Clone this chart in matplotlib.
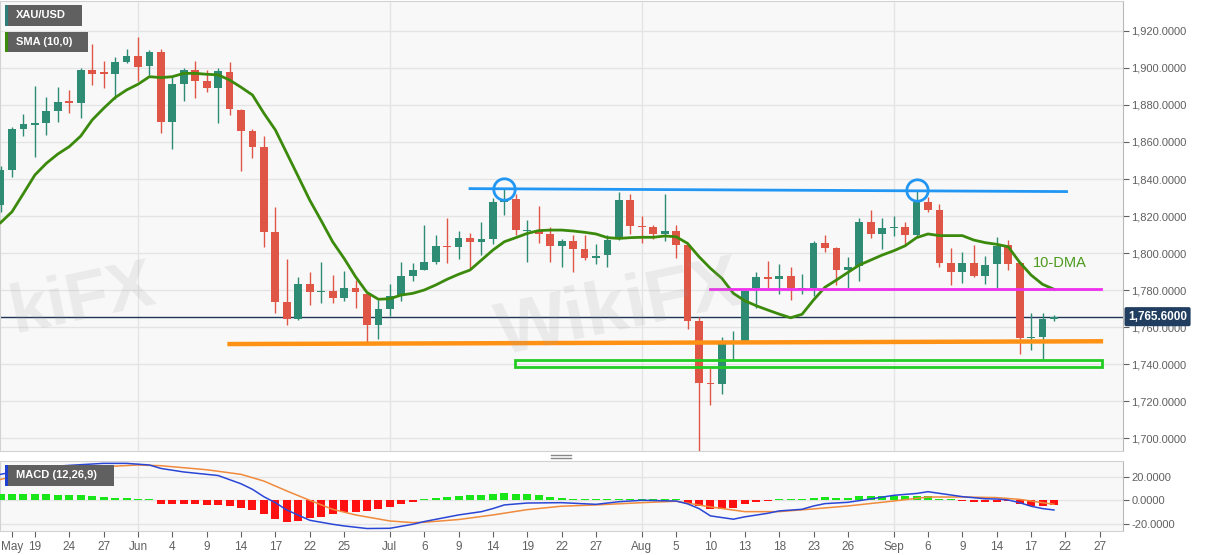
import matplotlib
matplotlib.use('Agg')
import matplotlib.pyplot as plt
import numpy as np
import pandas as pd
from matplotlib.lines import Line2D
from matplotlib.patches import Rectangle
from matplotlib.ticker import FuncFormatter
from matplotlib.transforms import blended_transform_factory

plt.rcParams['font.family'] = ['Liberation Sans', 'DejaVu Sans']

W, H = 1207, 555

# trading days on the chart (first candle May 14 2021, last Sep 21 2021)
days = pd.bdate_range('2021-05-14', '2021-09-30')

opens = [1826, 1845, 1867, 1869, 1870, 1877, 1882, 1881, 1899, 1897.5,
         1897, 1903.5, 1906.5, 1901, 1908.5, 1871, 1891.5, 1899, 1893, 1889,
         1898, 1877.5, 1866, 1857.5, 1811.5, 1773.5, 1764.5, 1783, 1779, 1779.5,
         1775.5, 1781, 1778, 1761, 1770, 1776.5, 1787.5, 1791, 1795, 1804,
         1803, 1808, 1806, 1807.5, 1827.5, 1829, 1812, 1812.5, 1810.5, 1804,
         1806.5, 1802, 1797.5, 1799, 1807.5, 1828.5, 1814.5, 1814, 1810.5, 1812,
         1804.5, 1763, 1730, 1729, 1751.5, 1752, 1781, 1787, 1786, 1787.5,
         1780.5, 1781, 1805.5, 1802.5, 1791, 1793, 1817, 1810.5, 1813.5, 1814,
         1809.5, 1827.5, 1823.5, 1794.5, 1789.5, 1794.5, 1787.5, 1794, 1804.5, 1794.5,
         1754, 1754.5, 1764.5]
highs = [1847, 1868, 1875, 1890, 1884.5, 1889.5, 1888, 1900, 1913, 1904,
         1906, 1910.5, 1916.5, 1909.5, 1910, 1895, 1900, 1904, 1899, 1900,
         1903, 1878, 1867, 1863, 1825, 1797, 1787, 1790, 1795, 1788,
         1790.5, 1785.5, 1779, 1774.5, 1783, 1795, 1794.5, 1815, 1810, 1819,
         1812, 1811, 1817, 1829.5, 1834.5, 1832, 1818, 1825.5, 1814, 1807.5,
         1810, 1810, 1805, 1810, 1833, 1832, 1820, 1815, 1832, 1815,
         1805, 1765.5, 1738, 1754.5, 1758, 1780, 1789.5, 1795.5, 1794, 1792.5,
         1788.5, 1806.5, 1809.5, 1803, 1798, 1819, 1823.5, 1819, 1820, 1817,
         1833.5, 1830.5, 1826.5, 1802.5, 1800.5, 1804.5, 1798.5, 1808.5, 1807, 1795,
         1767.5, 1767.5, 1766.5]
lows = [1822, 1841, 1863.5, 1852, 1864, 1871, 1875.5, 1873, 1891, 1889,
        1883, 1902.5, 1893, 1896, 1865, 1856, 1882, 1884, 1887, 1870,
        1874.5, 1844.5, 1851.5, 1803.5, 1767.5, 1761, 1764, 1772, 1773, 1773,
        1774, 1770.5, 1751.5, 1753.5, 1766, 1774, 1785, 1791, 1794, 1794.5,
        1796.5, 1791.5, 1799, 1805, 1820.5, 1809.5, 1795, 1805.5, 1795, 1792.5,
        1790, 1796, 1794, 1792.5, 1807, 1810.5, 1805.5, 1807.5, 1806.5, 1797.5,
        1759, 1692, 1718, 1724, 1742, 1751.5, 1770.5, 1781, 1778, 1774.5,
        1778, 1777, 1800.5, 1782.5, 1781, 1785, 1808, 1802, 1809, 1805,
        1809, 1822, 1792.5, 1782.5, 1784, 1787, 1783.5, 1781, 1791, 1745.5,
        1747.5, 1742.5, 1763]
closes = [1845, 1867, 1869.5, 1870, 1877, 1881.5, 1881, 1899, 1897, 1897,
          1903.5, 1906.5, 1900.5, 1908.5, 1871, 1891.5, 1899, 1893, 1889, 1898.5,
          1878, 1866, 1857.5, 1811.5, 1773.5, 1764.5, 1783, 1779, 1779.5, 1775.5,
          1781, 1779, 1761, 1770, 1776.5, 1787.5, 1791, 1795, 1804, 1803,
          1808, 1806, 1807.5, 1827.5, 1829, 1812.5, 1812.5, 1810.5, 1804, 1806.5,
          1802, 1797.5, 1798.5, 1807, 1828.5, 1814.5, 1814, 1810.5, 1812, 1804.5,
          1763, 1730, 1729, 1751, 1752.5, 1779.5, 1787, 1786, 1787.5, 1781,
          1781, 1805.5, 1802.5, 1791, 1792.5, 1817, 1810.5, 1813.5, 1814, 1809.5,
          1827.5, 1823.5, 1794.5, 1789.5, 1794.5, 1787.5, 1793.5, 1804, 1794, 1754,
          1754.5, 1764.5, 1765.6]

# SMA(10) as drawn on the chart
sma10 = [1816.4, 1822.3, 1832.2, 1842.2, 1848.5, 1853.5, 1857.5, 1863.2, 1871.9, 1878.2,
         1884, 1888.1, 1891.2, 1895.3, 1894.8, 1895.3, 1897.1, 1897.1, 1896.6, 1896.3,
         1893.5, 1889.6, 1885.4, 1875.5, 1866.5, 1853.9, 1841.3, 1828.6, 1817.5, 1806.1,
         1797.1, 1787.2, 1778.7, 1775, 1775.3, 1777.3, 1778.2, 1780, 1782.7, 1785.8,
         1788.5, 1790.8, 1796.2, 1801.6, 1806.1, 1808.3, 1810.6, 1812.1, 1812.4, 1812.4,
         1811.9, 1811.2, 1810.3, 1808.3, 1807.9, 1808.3, 1808.5, 1808.5, 1809.2, 1808.8,
         1805.2, 1798, 1791.7, 1786.3, 1778.2, 1774.2, 1771.5, 1769.2, 1767, 1765,
         1766.9, 1774.6, 1781.5, 1785.4, 1789.5, 1793.5, 1796.2, 1798.9, 1801.2, 1803.9,
         1808.3, 1810.3, 1809.4, 1809.4, 1809.4, 1807, 1805.6, 1804.7, 1803.4, 1795,
         1788.1, 1783.1, 1780.4]

# MACD (12,26,9) panel
macd_hist = [5.1, 5.6, 5.6, 5.6, 5.1, 4.5, 4.5, 4.2, 3.7, 3.1,
             2.3, 1.7, 0.8, 0.3, -2.8, -2.8, -3.4, -3.4, -3.9, -4.2,
             -5.1, -6.8, -8.2, -11.3, -15.5, -18, -17.5, -15.2, -14.1, -11.3,
             -9.6, -9.6, -9, -7, -5.4, -3.4, -1.1, 0.3, 1.7, 2.8,
             3.7, 4.2, 4.2, 5.6, 6.5, 5.6, 5.1, 4.2, 3.1, 2.3,
             1.4, 0.8, 0.6, 0.6, 1.4, 1.4, 1.4, 0.8, 0.8, 0.1,
             -2, -4.8, -7.6, -7, -6.8, -3.4, -1.4, -0.1, 0.3, 0.3,
             0.5, 2.3, 2.8, 2.3, 2.3, 3.7, 3.7, 3.7, 3.4, 3.4,
             3.4, 3.4, 1.1, 0.2, -0.5, -1.1, -1.1, -1.1, -0.8, -3.4,
             -4.8, -4.8, -4.2]
macd_days = [0, 3, 6, 9, 11, 13, 14, 16, 18, 19, 21, 22, 23, 24, 25, 27, 29, 30, 32, 34,
             36, 37, 40, 42, 43, 44, 46, 49, 52, 54, 56, 59, 60, 61, 62, 64, 65, 67, 68, 70,
             71, 72, 74, 76, 78, 80, 81, 83, 84, 86, 87, 88, 89, 90, 91, 92]
macd_line = [22, 27.6, 29.6, 31.3, 31.3, 29.9, 27, 24, 22, 21, 14, 9.3, 3, -2, -8.2, -16.9, -20.3, -21.7, -23.9, -23.7,
             -20.3, -18, -12.4, -9.6, -7, -3.9, -2.3, -2, -3.4, -1.2, 0, -0.6, -3, -7, -13.2, -16, -14, -11, -9, -7.6,
             -4.8, -2.8, -1.7, 1.2, 4.2, 5.8, 7.3, 4.5, 3.1, 1.3, 1.1, 0.3, -2, -5, -7, -8.2]
signal_days = [0, 3, 6, 9, 12, 14, 16, 18, 21, 23, 25, 27, 29, 31, 34, 36, 37, 40, 43, 46,
               49, 52, 56, 59, 62, 65, 68, 71, 74, 78, 81, 84, 87, 89, 92]
signal_line = [17.7, 24.8, 27, 28.5, 29.9, 29.3, 27.6, 25.9, 22, 16.3, 7.9, 0, -7.6, -12.4, -17.5, -18.9, -18.6, -16.3, -12.4, -7.9,
               -5, -3.9, -2, -0.8, -5.6, -9.6, -9.6, -7.3, -4.8, -0.6, 2.8, 2.8, 2.3, 0.8, -3.4]

tick_dates = ['2021-05-17', '2021-05-19', '2021-05-24', '2021-05-27', '2021-06-01', '2021-06-04',
              '2021-06-09', '2021-06-14', '2021-06-17', '2021-06-22', '2021-06-25', '2021-07-01',
              '2021-07-06', '2021-07-09', '2021-07-14', '2021-07-19', '2021-07-22', '2021-07-27',
              '2021-08-02', '2021-08-05', '2021-08-10', '2021-08-13', '2021-08-18', '2021-08-23',
              '2021-08-26', '2021-09-01', '2021-09-06', '2021-09-09', '2021-09-14', '2021-09-17',
              '2021-09-22', '2021-09-27']
tick_labels = ['May', '19', '24', '27', 'Jun', '4', '9', '14', '17', '22', '25', 'Jul', '6', '9', '14',
               '19', '22', '27', 'Aug', '5', '10', '13', '18', '23', '26', 'Sep', '6', '9', '14', '17',
               '22', '27']
month_starts = ['2021-06-01', '2021-07-01', '2021-08-02', '2021-09-01']

last_price = 1765.6
# drawn levels: (start day, end day, price at start, price at end)
resistance = (41, 93.1, 1834.8, 1833.2)
touches_days = [44, 80]
touches_price = [1834.6, 1834.0]
mid_level = (62, 96.1, 1780.3, 1780.3)
support = (20, 96.1, 1750.8, 1752.3)
support_zone = (44.9, 96.2, 1738.5, 1742.2)


def day_pos(d):
    return days.get_loc(pd.Timestamp(d))


GREEN = '#2f8c74'
RED = '#df5646'
GRID = '#e4e4e4'
TXT = '#606060'

fig = plt.figure(figsize=(W / 100, H / 100), dpi=100)
ax = fig.add_axes([0, 104 / H, 1123 / W, 450 / H])
axm = fig.add_axes([0, 24 / H, 1123 / W, 70 / H], sharex=ax)

for a in (ax, axm):
    a.set_facecolor('#f8f8f8')
    for s in a.spines.values():
        s.set_color('#d2d2d2')
    a.spines['right'].set_color('#b8b8b8')
    for d in month_starts:
        a.axvline(day_pos(d), color=GRID, lw=1, zorder=0)

# ---- price panel
ax.set_xlim(-0.05, 98.03)
ax.set_ylim(1693, 1936.2)
ax.set_yticks(np.arange(1700, 1921, 20))
ax.yaxis.tick_right()
ax.yaxis.set_major_formatter(FuncFormatter(lambda v, p: f'{v:,.4f}'))
ax.tick_params(axis='y', labelsize=8, colors=TXT, length=4, pad=2)
ax.tick_params(axis='x', bottom=False, labelbottom=False)
ax.grid(axis='y', color=GRID, lw=1, zorder=0)

x = np.arange(len(opens))
o, h, l, c = map(np.array, (opens, highs, lows, closes))
col = np.where(c >= o, GREEN, RED)
ax.vlines(x, l, h, colors=col, lw=1, zorder=3)
ax.bar(x, np.maximum(np.abs(c - o), 0.6), bottom=np.minimum(o, c), width=0.68,
       color=col, zorder=4)

ax.plot(x, sma10, color='#3b8a0c', lw=2, zorder=5)

ax.axhline(last_price, color='#1f3655', lw=1, zorder=2)
ax.plot(resistance[:2], resistance[2:], color='#2196f3', lw=2, zorder=6)
ax.plot(touches_days, touches_price, 'o', ms=15.4, mfc='none', mec='#2196f3', mew=2, zorder=6)
ax.plot(mid_level[:2], mid_level[2:], color='#ee2fee', lw=2, zorder=6)
ax.plot(support[:2], support[2:], color='#ff9114', lw=3.2, zorder=6)
ax.add_patch(Rectangle((support_zone[0], support_zone[2]), support_zone[1] - support_zone[0],
                       support_zone[3] - support_zone[2], fill=False, ec='#22cc22', lw=2, zorder=6))
ax.text(90.2, 1794.6, '10-DMA', color='#4b9a1c', fontsize=10.5, va='center', ha='left', zorder=7)

trans = blended_transform_factory(ax.transAxes, ax.transData)
ax.text(1.0045, last_price, f'{last_price:,.4f}', transform=trans, color='white', fontsize=8.5,
        fontweight='bold', va='center', ha='left', zorder=10,
        bbox=dict(boxstyle='round,pad=0.3,rounding_size=0.15', fc='#213d5f', ec='none'))

# ---- MACD panel
axm.set_ylim(-26, 33.3)
axm.set_yticks([-20, 0, 20])
axm.yaxis.tick_right()
axm.yaxis.set_major_formatter(FuncFormatter(lambda v, p: f'{v:.4f}'))
axm.tick_params(axis='y', labelsize=8, colors=TXT, length=4, pad=2)
axm.grid(axis='y', color=GRID, lw=1, zorder=0)

hv = np.array(macd_hist)
hv_draw = np.where(np.abs(hv) < 0.7, np.sign(hv) * 0.7, hv)
axm.bar(x, hv_draw, width=0.7, color=np.where(hv >= 0, '#19e619', '#ff1111'), zorder=3)
axm.plot(signal_days, signal_line, color='#f08a3c', lw=1.1, zorder=4)
axm.plot(macd_days, macd_line, color='#2a46d6', lw=1.1, zorder=5)

axm.set_xticks([day_pos(d) for d in tick_dates])
axm.set_xticklabels(tick_labels)
axm.tick_params(axis='x', labelsize=8.5, colors=TXT, length=4, pad=3)

# ---- legend tags in the top-left corners
def tag(x0, y0, w, h, text, stripe):
    fig.add_artist(Rectangle((x0 / W, 1 - (y0 + h) / H), w / W, h / H, transform=fig.transFigure,
                             fc='#606060', ec='none', zorder=20))
    fig.add_artist(Rectangle((x0 / W, 1 - (y0 + h) / H), 3 / W, h / H, transform=fig.transFigure,
                             fc=stripe, ec='none', zorder=21))
    fig.text((x0 + 11) / W, 1 - (y0 + h / 2) / H, text, color='white', fontsize=8,
             fontweight='bold', va='center', ha='left', zorder=22)


tag(5, 5, 77, 21, 'XAU/USD', '#2d7d78')
tag(5, 32, 83, 20, 'SMA (10,0)', '#3b8a0c')
tag(5, 465, 109, 21, 'MACD (12,26,9)', '#1f3fd0')

# panel splitter handle
for yy in (455, 458):
    fig.add_artist(Line2D([551 / W, 571 / W], [1 - yy / H, 1 - yy / H], transform=fig.transFigure,
                          color='#888888', lw=1))

# faint watermark
fig.text(620 / W, 1 - 310 / H, 'WikiFX', fontsize=54, fontweight='bold', color='#9a9a9a',
         alpha=0.15, rotation=12, ha='center', va='center', zorder=30)
fig.text(4 / W, 1 - 300 / H, 'kiFX', fontsize=50, fontweight='bold', color='#9a9a9a',
         alpha=0.15, rotation=12, ha='left', va='center', zorder=30)

fig.savefig('out.png', dpi=100)
